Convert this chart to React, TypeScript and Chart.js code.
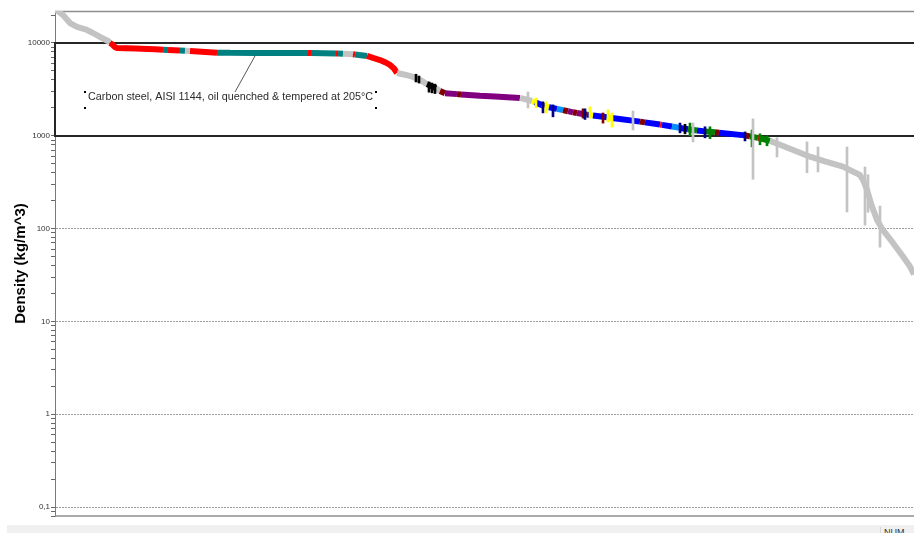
import React, { useEffect, useRef } from 'react';
import { Chart, registerables } from 'chart.js';

Chart.register(...registerables);

// ---- Ranked density curve (rank of material, density kg/m^3, class of segment to next point)
const RANKS = [
  0, 3, 8, 15, 22, 32, 38, 45, 53, 55, 57, 60, 62, 80, 100, 108, 113, 125, 130, 135,
  162, 175, 200, 253, 256, 281, 283, 288, 298, 300, 312, 318, 325, 330, 335, 339,
  342, 350, 358, 365, 372, 381, 385, 390, 402, 406, 425, 440, 465, 477, 480, 487,
  490, 494, 502, 508, 513, 518, 522, 528, 532, 535, 538, 552, 557, 585, 590, 605,
  607, 617, 625, 633, 642, 650, 660, 664, 690, 695, 703, 705, 715, 725, 740, 755,
  770, 788, 805, 808, 812, 817, 822, 828, 838, 848, 855, 859,
];
const DENSITY = [
  23000, 22000, 20000, 16400, 14900, 13800, 12800, 11600, 10500, 10000, 9700, 9000, 8830, 8700, 8550, 8450, 8420, 8300, 8250, 8200,
  7850, 7820, 7800, 7790, 7780, 7700, 7690, 7650, 7550, 7500, 7250, 6900, 6550, 6200, 5800, 5300,
  4750, 4550, 4300, 4000, 3600, 3250, 3040, 2870, 2810, 2790, 2700, 2650, 2560, 2370, 2300, 2140,
  2080, 2030, 1950, 1890, 1840, 1790, 1760, 1720, 1690, 1670, 1650, 1580, 1555, 1420, 1395, 1320,
  1310, 1260, 1215, 1175, 1140, 1115, 1090, 1080, 1010, 985, 950, 940, 880, 800, 690, 595,
  530, 465, 378, 334, 262, 173, 124, 96, 70, 50, 39, 32,
];
const SEG_CLASS = [
  'other', 'other', 'other', 'other', 'other', 'other', 'other', 'other', 'other', 'red', 'red', 'red', 'red', 'red', 'red', 'teal', 'red', 'teal', 'other', 'red',
  'teal', 'teal', 'teal', 'red', 'teal', 'red', 'teal', 'other', 'red', 'teal', 'red', 'red', 'red', 'red', 'red', 'red',
  'other', 'other', 'other', 'other', 'black', 'other', 'maroon', 'purple', 'maroon', 'purple', 'purple', 'purple', 'other', 'yellow', 'blue', 'darkBlue',
  'yellow', 'blue', 'cyan', 'maroon', 'purple', 'maroon', 'purple', 'maroon', 'blue', 'yellow', 'blue', 'yellow', 'blue', 'maroon', 'blue', 'red',
  'blue', 'cyan', 'blue', 'green', 'blue', 'green', 'maroon', 'blue', 'maroon', 'green', 'red', 'green', 'other', 'other', 'other', 'other',
  'other', 'other', 'other', 'other', 'other', 'other', 'other', 'other', 'other', 'other', 'other', 'other',
];

// ---- Density ranges (vertical bars)
const RANGE_RANKS = [361, 364, 374, 377, 380, 473, 481, 488, 491, 498, 528, 530, 535, 548, 553, 557, 578, 625, 630, 635, 638, 650, 655, 690, 697, 698, 705, 712, 722, 752, 763, 792, 810, 813, 825];
const RANGE_LOW = [3800, 3700, 2950, 2900, 2850, 1995, 2000, 1765, 1765, 1600, 1550, 1500, 1550, 1370, 1410, 1240, 1155, 1075, 1050, 1000, 860, 950, 930, 880, 760, 340, 800, 780, 590, 400, 408, 151, 109, 150, 63];
const RANGE_HIGH = [4600, 4400, 3800, 3700, 3600, 2960, 2550, 2320, 2320, 2150, 1950, 1950, 2050, 1760, 1900, 1760, 1850, 1370, 1330, 1370, 1370, 1250, 1250, 1100, 1155, 1520, 1050, 1000, 950, 860, 757, 757, 461, 380, 175];
const RANGE_CLASS = ['black', 'black', 'black', 'black', 'black', 'other', 'yellow', 'darkBlue', 'yellow', 'darkBlue', 'maroon', 'darkBlue', 'yellow', 'maroon', 'yellow', 'yellow', 'other', 'darkBlue', 'black', 'green', 'other', 'darkBlue', 'green', 'darkBlue', 'green', 'other', 'green', 'green', 'other', 'other', 'other', 'other', 'other', 'other', 'other'];

// ---- Axis
const Y_MIN = 0.08;
const Y_MAX = 22100;
const Y_DECADES = [0.1, 1, 10, 100, 1000, 10000];
const Y_DECADE_LABELS = ['0,1', '1', '10', '100', '1000', '10000'];
const Y_MINOR_MULTIPLIERS = [2, 3, 4, 5, 6, 7, 8, 9];
const RANK_MAX = 859;
const AXIS_TITLE = 'Density (kg/m^3)';

// ---- Selection and label
const SELECTION_RANGE = [1000, 10000];
const NOTE_TEXT = 'Carbon steel, AISI 1144, oil quenched & tempered at 205°C';
const NOTE_POINT = { rank: 200, density: 7800 };
const NOTE_LABEL = { rank: 33, density: 2400 };

const CLASS_COLORS: Record<string, string> = {
  other: '#c3c3c3',
  red: '#ff0000',
  teal: '#008080',
  black: '#000000',
  maroon: '#800000',
  purple: '#800080',
  blue: '#0000ff',
  darkBlue: '#000080',
  cyan: '#0090ff',
  yellow: '#ffff00',
  green: '#008000',
};

const FONT = '"Liberation Sans", Arial, Helvetica, sans-serif';

function buildYTicks() {
  const ticks: { value: number; major: boolean }[] = [];
  for (let e = -2; e <= 4; e++) {
    const base = Math.pow(10, e);
    const decadeVal = Number(base.toPrecision(3));
    if (decadeVal >= Y_MIN && decadeVal <= Y_MAX) ticks.push({ value: decadeVal, major: true });
    for (const m of Y_MINOR_MULTIPLIERS) {
      const v = Number((m * base).toPrecision(3));
      if (v >= Y_MIN && v <= Y_MAX) ticks.push({ value: v, major: false });
    }
  }
  ticks.sort((a, b) => a.value - b.value);
  return ticks;
}

function decadeLabel(v: number) {
  for (let i = 0; i < Y_DECADES.length; i++) {
    if (Math.abs(v - Y_DECADES[i]) / Y_DECADES[i] < 1e-6) return Y_DECADE_LABELS[i];
  }
  return '';
}

const framePlugin = {
  id: 'frame',
  beforeDatasetsDraw(chart: any) {
    const { ctx, chartArea, scales } = chart;
    const { left, right, top, bottom } = chartArea;
    const y = scales.y;
    ctx.save();
    ctx.strokeStyle = '#8f8f8f';
    ctx.lineWidth = 1.5;
    ctx.beginPath();
    ctx.moveTo(left, top + 0.5);
    ctx.lineTo(right + 10, top + 0.5);
    ctx.stroke();
    ctx.beginPath();
    ctx.moveTo(left, bottom);
    ctx.lineTo(right + 10, bottom);
    ctx.stroke();
    const yHi = Math.round(y.getPixelForValue(SELECTION_RANGE[1]));
    const yLo = Math.round(y.getPixelForValue(SELECTION_RANGE[0]));
    ctx.strokeStyle = '#262626';
    ctx.lineWidth = 2;
    ctx.strokeRect(left, yHi, right - left + 20, yLo - yHi);
    ctx.restore();
  },
  afterDatasetsDraw(chart: any) {
    const { ctx, scales } = chart;
    const x = scales.x;
    const y = scales.y;
    ctx.save();
    ctx.font = '10.8px ' + FONT;
    ctx.textBaseline = 'alphabetic';
    ctx.textAlign = 'left';
    const tx = x.getPixelForValue(NOTE_LABEL.rank);
    const ty = y.getPixelForValue(NOTE_LABEL.density);
    const w = ctx.measureText(NOTE_TEXT).width;
    ctx.fillStyle = '#2b2b2b';
    ctx.fillText(NOTE_TEXT, tx, ty);
    const bl = tx - 3, br = tx + w + 3, bt = ty - 8.5, bb = ty + 7.5;
    ctx.fillStyle = '#000';
    [[bl, bt], [bl, bb], [br, bt], [br, bb]].forEach(([hx, hy]) => {
      ctx.fillRect(Math.round(hx) - 1, Math.round(hy) - 1, 2, 2);
    });
    const px = x.getPixelForValue(NOTE_POINT.rank);
    const py = y.getPixelForValue(NOTE_POINT.density);
    ctx.strokeStyle = '#555';
    ctx.lineWidth = 1;
    ctx.beginPath();
    ctx.moveTo(px, py + 3);
    ctx.lineTo(tx + 147, bt);
    ctx.stroke();
    ctx.restore();
  },
};

function ChartView() {
  const canvasRef = useRef<HTMLCanvasElement | null>(null);
  useEffect(() => {
    const canvas = canvasRef.current;
    if (!canvas) return;
    const curve = RANKS.map((r, i) => ({ x: r, y: DENSITY[i] }));
    const ranges = RANGE_RANKS.map((r, i) => ({ x: r, y: [RANGE_LOW[i], RANGE_HIGH[i]] }));
    const yTicks = buildYTicks();
    const chart = new Chart(canvas, {
      type: 'line',
      data: {
        datasets: [
          {
            type: 'bar',
            data: ranges as any,
            backgroundColor: RANGE_CLASS.map((c) => CLASS_COLORS[c]),
            borderWidth: 0,
            barThickness: 2,
            grouped: false,
            order: 0,
          } as any,
          {
            type: 'line',
            data: curve,
            borderWidth: 6,
            borderColor: CLASS_COLORS.other,
            pointRadius: 0,
            tension: 0,
            borderCapStyle: 'butt',
            borderJoinStyle: 'bevel',
            segment: {
              borderColor: (ctx: any) => CLASS_COLORS[SEG_CLASS[ctx.p0DataIndex]],
            },
            order: 1,
          } as any,
        ],
      },
      options: {
        responsive: false,
        animation: false,
        events: [],
        layout: { padding: { top: 11, bottom: 8, left: 0, right: 0 } },
        plugins: { legend: { display: false }, tooltip: { enabled: false } },
        scales: {
          x: { type: 'linear', min: 0, max: RANK_MAX, display: false, offset: false },
          y: {
            type: 'logarithmic',
            min: Y_MIN,
            max: Y_MAX,
            afterBuildTicks: (scale: any) => {
              scale.ticks = yTicks.map((t) => ({ value: t.value, major: t.major }));
            },
            afterFit: (scale: any) => {
              scale.width = 47;
            },
            ticks: {
              autoSkip: false,
              padding: 1,
              color: '#333',
              font: { size: 8, family: FONT },
              callback: (value: any) => decadeLabel(Number(value)),
            },
            grid: {
              drawTicks: true,
              tickLength: 4,
              lineWidth: 1,
              color: (c: any) => (c.tick && c.tick.major ? '#9d9d9d' : 'rgba(0,0,0,0)'),
              tickColor: '#666',
            },
            border: { display: true, color: '#7a7a7a', width: 1, dash: [2, 1] },
            title: {
              display: true,
              text: AXIS_TITLE,
              color: '#000',
              font: { size: 15, weight: 'bold', family: FONT },
              padding: { top: 4, bottom: 4 },
            },
          },
        },
      } as any,
      plugins: [framePlugin],
    });
    return () => chart.destroy();
  }, []);
  return <canvas ref={canvasRef} width={906} height={524} style={{ display: 'block', width: 906, height: 524 }} />;
}

export default function App() {
  return (
    <div style={{ position: 'fixed', left: 0, top: 0, width: 914, height: 533, overflow: 'hidden', background: '#fff', fontFamily: FONT }}>
      <div style={{ position: 'absolute', left: 8, top: 0 }}>
        <ChartView />
      </div>
      <div style={{ position: 'absolute', left: 7, top: 525, width: 907, height: 8, background: '#f0f0f0' }} />
      <div style={{ position: 'absolute', left: 880, top: 527, width: 1, height: 6, background: '#d8d8d8' }} />
      <div style={{ position: 'absolute', left: 884, top: 527, fontSize: 9, lineHeight: '10px', color: '#333' }}>NUM</div>
    </div>
  );
}
